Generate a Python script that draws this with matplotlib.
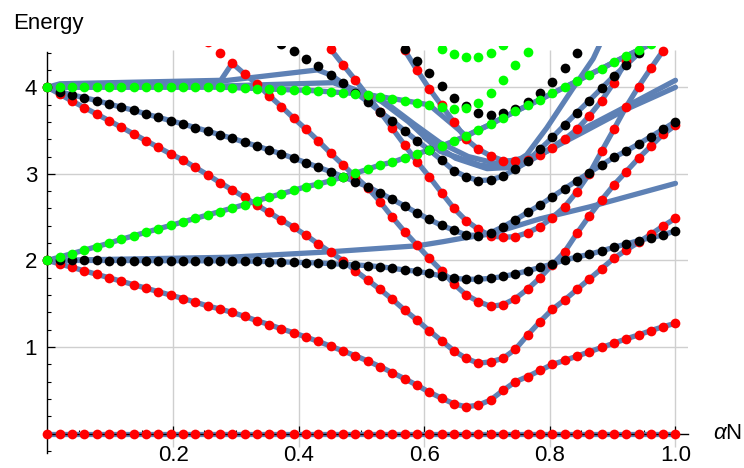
import numpy as np
import matplotlib.pyplot as plt
from matplotlib.ticker import MultipleLocator

plt.rcParams['font.family'] = ['Liberation Sans', 'DejaVu Sans']
plt.rcParams['mathtext.fontset'] = 'custom'
plt.rcParams['mathtext.it'] = 'Liberation Sans:italic'
plt.rcParams['mathtext.rm'] = 'Liberation Sans'

nan = np.nan

# alpha*N grid the levels were computed on
alphaN = np.arange(52) / 51

# energy levels per branch (nan where the level is off the plot)
red0 = [0.0] * 52
red1 = [2.00, 1.96, 1.92, 1.88, 1.84, 1.80, 1.76, 1.72, 1.68, 1.64,
        1.60, 1.56, 1.52, 1.475, 1.44, 1.40, 1.355, 1.305, 1.26, 1.21,
        1.165, 1.115, 1.065, 1.01, 0.955, 0.90, 0.84, 0.775, 0.705, 0.635,
        0.56, 0.48, 0.41, 0.345, 0.31, 0.33, 0.39, 0.50, 0.60, 0.66,
        0.73, 0.80, 0.845, 0.895, 0.945, 0.995, 1.045, 1.095, 1.14, 1.19,
        1.235, 1.275]
red2 = [4.00, 3.92, 3.84, 3.765, 3.69, 3.614, 3.538, 3.461, 3.383, 3.307,
        3.23, 3.16, 3.075, 2.99, 2.90, 2.815, 2.73, 2.64, 2.555, 2.467,
        2.383, 2.29, 2.19, 2.094, 1.998, 1.882, 1.775, 1.667, 1.552, 1.428,
        1.313, 1.189, 1.074, 0.958, 0.87, 0.813, 0.83, 0.87, 0.975, 1.14,
        1.293, 1.436, 1.544, 1.665, 1.785, 1.905, 2.025, 2.12, 2.21, 2.302,
        2.398, 2.487]
red3 = [nan] * 13 + [
        4.52, 4.40, 4.277, 4.154, 4.038, 3.903, 3.776, 3.642, 3.515, 3.38,
        3.238, 3.103, 2.968, 2.84, 2.68, 2.50, 2.333, 2.179, 2.025, 1.882,
        1.729, 1.602, 1.525, 1.47, 1.49, 1.56, 1.67, 1.80, 1.95, 2.10,
        2.314, 2.514, 2.699, 2.872, 3.026, 3.18, 3.32, 3.457, 3.56]
red4 = [nan] * 23 + [
        4.44, 4.26, 4.084, 3.90, 3.718, 3.526, 3.334, 3.141, 2.968, 2.783,
        2.603, 2.46, 2.36, 2.283, 2.268, 2.275, 2.321, 2.39, 2.494, 2.621,
        2.795, 3.00, 3.26, 3.515, 3.776, 4.007, 4.219, 4.423, nan]
red5 = [nan] * 29 + [
        4.43, 4.20, 3.985, 3.79, 3.60, 3.40, 3.284, 3.207, 3.153, 3.145,
        3.16, 3.218, 3.295, 3.40, 3.515, 3.669, 3.846, 4.053, 4.307,
        nan, nan, nan, nan]

black1 = [2.0, 2.0, 2.0, 2.0, 2.0, 1.999, 1.999, 1.998, 1.998, 1.997,
          1.997, 1.996, 1.996, 1.995, 1.995, 1.994, 1.994, 1.99, 1.986, 1.983,
          1.979, 1.975, 1.971, 1.963, 1.956, 1.948, 1.94, 1.928, 1.91, 1.89,
          1.875, 1.852, 1.821, 1.794, 1.783, 1.783, 1.794, 1.815, 1.845, 1.88,
          1.92, 1.96, 2.005, 2.04, 2.071, 2.11, 2.152, 2.19, 2.229, 2.264,
          2.294, 2.344]
black2 = [4.0, 3.95, 3.911, 3.88, 3.846, 3.807, 3.769, 3.734, 3.692, 3.653,
          3.614, 3.576, 3.534, 3.495, 3.45, 3.411, 3.365, 3.322, 3.276, 3.23,
          3.18, 3.13, 3.076, 3.025, 2.967, 2.91, 2.852, 2.78, 2.705, 2.63,
          2.55, 2.475, 2.405, 2.35, 2.294, 2.288, 2.321, 2.39, 2.468, 2.556,
          2.64, 2.735, 2.83, 2.922, 3.014, 3.103, 3.19, 3.264, 3.345, 3.43,
          3.515, 3.603]
black3 = [nan] * 19 + [
          4.50, 4.423, 4.327, 4.246, 4.142, 4.046, 3.938, 3.834, 3.718, 3.614,
          3.499, 3.383, 3.276, 3.16, 3.037, 2.968, 2.922, 2.93, 2.976, 3.053,
          3.153, 3.284, 3.42, 3.565, 3.707, 3.846, 3.988, 4.13, 4.257, 4.39,
          nan, nan, nan]
black4 = [nan] * 29 + [
          4.44, 4.307, 4.16, 4.015, 3.88, 3.784, 3.707, 3.68, 3.70, 3.749,
          3.834, 3.93, 4.065, 4.226, 4.40] + [nan] * 8

green1 = [2.00, 2.04, 2.08, 2.12, 2.16, 2.20, 2.245, 2.285, 2.325, 2.365,
          2.405, 2.445, 2.485, 2.525, 2.565, 2.605, 2.645, 2.69, 2.73, 2.77,
          2.81, 2.852, 2.883, 2.92, 2.967, 3.007, 3.053, 3.103, 3.134, 3.184,
          3.23, 3.276, 3.322, 3.38, 3.438, 3.507, 3.573, 3.65, 3.72, 3.79,
          3.857, 3.93, 4.0, 4.07, 4.146, 4.215, 4.29, 4.36, 4.43, 4.50,
          nan, nan]
green2 = [4.0] * 15 + [
          3.996, 3.99, 3.985, 3.98, 3.973,
          3.969, 3.965, 3.957, 3.946, 3.938, 3.926, 3.911, 3.892, 3.869, 3.846,
          3.822, 3.796, 3.768, 3.749, 3.757, 3.822, 3.93, 4.084, 4.257, 4.41] + [nan] * 12
green3 = [nan] * 32 + [4.44, 4.385, 4.347, 4.347, 4.40, 4.49] + [nan] * 14

# second-method curves (drawn as lines)
red3_lead_x = [0.0, 0.02, 0.276]
red3_lead_y = [4.0, 4.04, 4.08]
black3_lead_x = [0.0, 0.24, 0.43]
black3_lead_y = [4.0, 4.04, 4.2]
low_x = [0.0, 0.29, 0.45, 0.59, 0.63, 0.66, 0.705, 0.784, 0.864, 1.0]
low_y = [2.0, 2.037, 2.10, 2.17, 2.217, 2.256, 2.306, 2.48, 2.62, 2.89]
upper_a_x = [0.0, 0.243, 0.455, 0.493, 0.54, 0.583, 0.625, 0.67, 0.715,
             0.784, 0.821, 0.848, 0.922, 1.0]
upper_a_y = [4.0, 4.007, 4.053, 3.95, 3.815, 3.58, 3.36, 3.2, 3.12,
             3.22, 3.39, 3.5, 3.78, 4.08]
upper_b_x = [0.60, 0.65, 0.70, 0.75, 0.80, 0.85, 0.92, 1.0]
upper_b_y = [3.42, 3.18, 3.06, 3.08, 3.28, 3.47, 3.74, 4.0]
steep_x = [0.455, 0.52, 0.575, 0.625, 0.689, 0.731, 0.763, 0.795, 0.837,
           0.869, 0.88]
steep_y = [4.06, 3.9, 3.6, 3.26, 3.10, 3.07, 3.22, 3.53, 3.99, 4.33, 4.5]

x = alphaN
red3a, black3a, green1a, green2a = (np.array(v) for v in (red3, black3, green1, green2))
lines = [
    (x, red0), (x, red1), (x, red2), (x, black1), (x, black2),
    (x[:50], green1a[:50]),
    (np.r_[red3_lead_x, x[15:]], np.r_[red3_lead_y, red3a[15:]]),
    (np.r_[black3_lead_x, x[23:49]], np.r_[black3_lead_y, black3a[23:49]]),
    (np.r_[x[:32], x[34:50]], np.r_[green2a[:32], green1a[34:50]]),
    (x[23:51], np.array(red4)[23:51]),
    (x[29:48], np.array(red5)[29:48]),
    (low_x, low_y), (upper_a_x, upper_a_y), (upper_b_x, upper_b_y),
    (steep_x, steep_y),
]

fig = plt.figure(figsize=(7.44, 4.68), dpi=100)
ax = fig.add_axes([0.04696, 0.0308, 0.8778, 0.8716])

xt = [0.2, 0.4, 0.6, 0.8, 1.0]
yt = [1, 2, 3, 4]
ax.vlines(xt, -0.15, 4.43, color='#cfcfcf', lw=1.0, zorder=1)
ax.hlines(yt, 0, 1.02, color='#cfcfcf', lw=1.0, zorder=1)

for lx, ly in lines:
    ax.plot(lx, ly, color='#5E81B5', lw=3.8, solid_capstyle='round',
            solid_joinstyle='round', zorder=2)

for ys in (red0, red1, red2, red3, red4, red5):
    ax.plot(x, ys, 'o', ms=7.0, color='#ff0000', mec='none', zorder=3)
for ys in (black1, black2, black3, black4):
    ax.plot(x, ys, 'o', ms=7.0, color='black', mec='none', zorder=4)
for ys in (green1, green2, green3):
    ax.plot(x, ys, 'o', ms=7.0, color='#00ff00', mec='none', zorder=5)

ax.set_xlim(-0.02, 1.02)
ax.set_ylim(-0.23, 4.48)
ax.patch.set_alpha(0)

for s in ('top', 'right'):
    ax.spines[s].set_visible(False)
ax.spines['left'].set_position(('data', 0))
ax.spines['bottom'].set_position(('data', 0))
ax.spines['left'].set_bounds(-0.22, 4.41)
ax.spines['bottom'].set_bounds(0, 1.02)
for s in ('left', 'bottom'):
    ax.spines[s].set_linewidth(1.0)
    ax.spines[s].set_zorder(2.5)

ax.set_xticks(xt)
ax.set_xticklabels(['0.2', '0.4', '0.6', '0.8', '1.0'])
ax.set_yticks(yt)
ax.set_yticklabels(['1', '2', '3', '4'])
ax.xaxis.set_minor_locator(MultipleLocator(0.05))
ax.yaxis.set_minor_locator(MultipleLocator(0.2))
ax.tick_params(which='major', direction='in', length=5.5, width=0.9, labelsize=16)
ax.tick_params(which='minor', direction='in', length=3, width=0.8)
ax.tick_params(axis='x', which='major', pad=8)
ax.tick_params(axis='y', which='major', pad=7.5)

fig.text(12.7 / 744, 1 - 28.5 / 468, 'Energy', fontsize=16, va='baseline')
ax.text(1.06, 0, r'$\alpha$N', fontsize=16, va='center', ha='left', clip_on=False)

fig.savefig('out.png', dpi=100, facecolor='white')
